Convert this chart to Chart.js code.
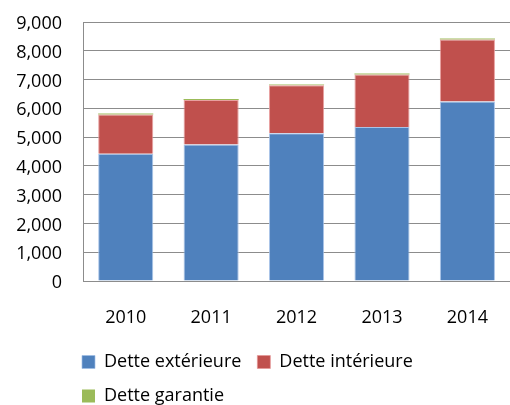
<!DOCTYPE html>
<html>
<head>
<meta charset="utf-8">
<script src="https://cdn.jsdelivr.net/npm/chart.js@4/dist/chart.umd.min.js"></script>
<style>
html,body{margin:0;padding:0;overflow:hidden;background:#fff;}
#wrap{position:relative;width:514px;height:415px;}
</style>
</head>
<body>
<div id="wrap"><canvas id="c"></canvas></div>
<script>
const categories = ['2010', '2011', '2012', '2013', '2014'];
const detteExterieure = [4420, 4745, 5130, 5350, 6235];
const detteInterieure = [1370, 1545, 1670, 1825, 2160];
const detteGarantie = [30, 30, 30, 35, 35];
const seriesNames = ['Dette extérieure', 'Dette intérieure', 'Dette garantie'];

const FONT = "'Open Sans', sans-serif";
const legendShift = {
  id: 'legendShift',
  afterLayout(chart) {
    const lg = chart.legend;
    if (lg) { lg.left -= 17; lg.right -= 17; }
  }
};
new Chart(document.getElementById('c'), {
  type: 'bar',
  data: {
    labels: categories,
    datasets: [
      { label: seriesNames[0], data: detteExterieure, backgroundColor: '#4F81BD', borderColor: 'rgba(160,190,230,0.9)', borderWidth: {left:1,right:1,top:1,bottom:0} },
      { label: seriesNames[1], data: detteInterieure, backgroundColor: '#C0504D', borderColor: 'rgba(230,150,150,0.9)', borderWidth: {left:1,right:1,top:1,bottom:0} },
      { label: seriesNames[2], data: detteGarantie, backgroundColor: '#9BBB59', borderWidth: 0 }
    ]
  },
  plugins: [legendShift],
  options: {
    responsive: true,
    maintainAspectRatio: false,
    animation: false,
    devicePixelRatio: 1,
    layout: { padding: { left: 0, top: 22, right: 0, bottom: 0 } },
    datasets: { bar: { categoryPercentage: 1.0, barPercentage: 0.645 } },
    plugins: {
      tooltip: { enabled: false },
      legend: {
        position: 'bottom',
        align: 'start',
        fullSize: false,
        labels: {
          boxWidth: 13,
          boxHeight: 13,
          padding: 16,
          color: '#000',
          font: { family: FONT, size: 18 }
        }
      }
    },
    scales: {
      x: {
        stacked: true,
        grid: { display: false, drawTicks: false },
        border: { display: true, color: '#8c8c8c', width: 1 },
        ticks: { color: '#000', padding: 26, font: { family: FONT, size: 18 } },
        afterFit(s) { s.height = 56; }
      },
      y: {
        stacked: true,
        min: 0,
        max: 9000,
        ticks: { stepSize: 1000, color: '#000', padding: 21, labelOffset: 2, font: { family: FONT, size: 18 } },
        grid: { color: '#8c8c8c', lineWidth: 1, drawTicks: false },
        border: { display: true, color: '#8c8c8c', width: 1 },
        afterFit(s) { s.width = 83; s.paddingTop = 10; s.paddingBottom = 10; }
      }
    }
  }
});
</script>
</body>
</html>
